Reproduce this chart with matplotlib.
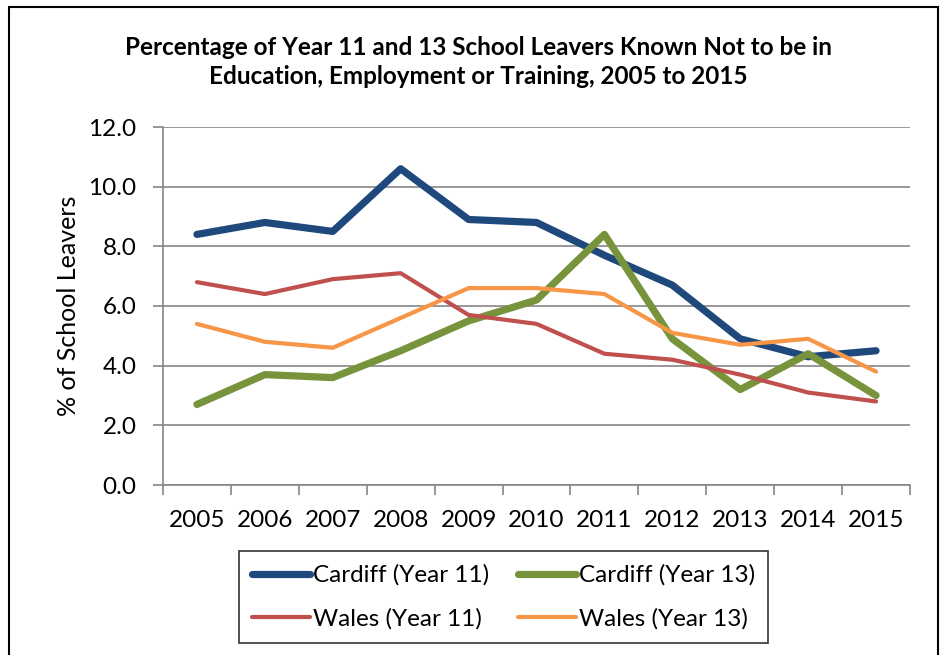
import matplotlib
matplotlib.use("Agg")
import matplotlib.pyplot as plt
from matplotlib.patches import Rectangle
import numpy as np

plt.rcParams['font.family'] = ['Lato', 'DejaVu Sans']

years = ['2005', '2006', '2007', '2008', '2009', '2010', '2011', '2012', '2013', '2014', '2015']
cardiff_y11 = [8.4, 8.8, 8.5, 10.6, 8.9, 8.8, 7.7, 6.7, 4.9, 4.3, 4.5]
cardiff_y13 = [2.7, 3.7, 3.6, 4.5, 5.5, 6.2, 8.4, 4.9, 3.2, 4.4, 3.0]
wales_y11 = [6.8, 6.4, 6.9, 7.1, 5.7, 5.4, 4.4, 4.2, 3.7, 3.1, 2.8]
wales_y13 = [5.4, 4.8, 4.6, 5.6, 6.6, 6.6, 6.4, 5.1, 4.7, 4.9, 3.8]
yticks = [0.0, 2.0, 4.0, 6.0, 8.0, 10.0, 12.0]

W, H = 941, 655
fig = plt.figure(figsize=(W / 100, H / 100), dpi=100)
fig.patch.set_facecolor('white')
fig.patches.append(Rectangle((9 / W, -0.05), (938 - 9) / W, 1.05 - 7 / H,
                             transform=fig.transFigure, fill=False,
                             edgecolor='black', linewidth=1.5))

ax = fig.add_axes([163 / W, 1 - 485 / H, (910 - 163) / W, (485 - 127) / H])
x = np.arange(len(years))
grid_c = '#868686'

l1, = ax.plot(x, cardiff_y11, color='#1F497D', lw=5.2, solid_capstyle='round', solid_joinstyle='round', label='Cardiff (Year 11)', zorder=3)
l2, = ax.plot(x, cardiff_y13, color='#77933C', lw=5.2, solid_capstyle='round', solid_joinstyle='round', label='Cardiff (Year 13)', zorder=3)
l3, = ax.plot(x, wales_y11, color='#C0504D', lw=3.0, solid_capstyle='round', solid_joinstyle='round', label='Wales (Year 11)', zorder=3)
l4, = ax.plot(x, wales_y13, color='#F79646', lw=3.0, solid_capstyle='round', solid_joinstyle='round', label='Wales (Year 13)', zorder=3)

ax.set_xlim(-0.5, len(years) - 0.5)
ax.set_ylim(0, 12)
ax.set_yticks(yticks)
ax.set_yticklabels([f'{v:.1f}' for v in yticks], fontsize=17.5)
ax.yaxis.grid(True, color=grid_c, lw=1.2)
ax.set_axisbelow(True)
ax.set_xticks(np.arange(-0.5, len(years), 1.0))
ax.set_xticklabels([])
ax.set_xticks(x, minor=True)
ax.set_xticklabels(years, minor=True, fontsize=17.5)
ax.tick_params(axis='x', which='minor', length=0, pad=18)
ax.tick_params(axis='x', which='major', length=7, width=1.2, color=grid_c, direction='out')
ax.tick_params(axis='y', length=7, width=1.2, color=grid_c, direction='out', pad=12)
for s in ['top', 'right']:
    ax.spines[s].set_visible(False)
for s in ['left', 'bottom']:
    ax.spines[s].set_color(grid_c)
    ax.spines[s].set_linewidth(1.2)

ax.set_ylabel('% of School Leavers', fontsize=18, labelpad=6)

fig.text(478 / W, 1 - 62 / H,
         'Percentage of Year 11 and 13 School Leavers Known Not to be in\nEducation, Employment or Training, 2005 to 2015',
         ha='center', va='center', fontsize=17.5, fontweight='bold', linespacing=1.35)

leg = fig.legend(handles=[l1, l3, l2, l4], loc='center', ncol=2,
                 bbox_to_anchor=(((236 + 771) / 2) / W, 1 - ((550 + 644) / 2) / H),
                 fontsize=17.5, frameon=True, fancybox=False, edgecolor='black',
                 handlelength=2.4, handletextpad=0.1, columnspacing=1.2,
                 labelspacing=0.9, borderpad=0.55)
leg.get_frame().set_linewidth(1.2)

fig.savefig('out.png', dpi=100)
